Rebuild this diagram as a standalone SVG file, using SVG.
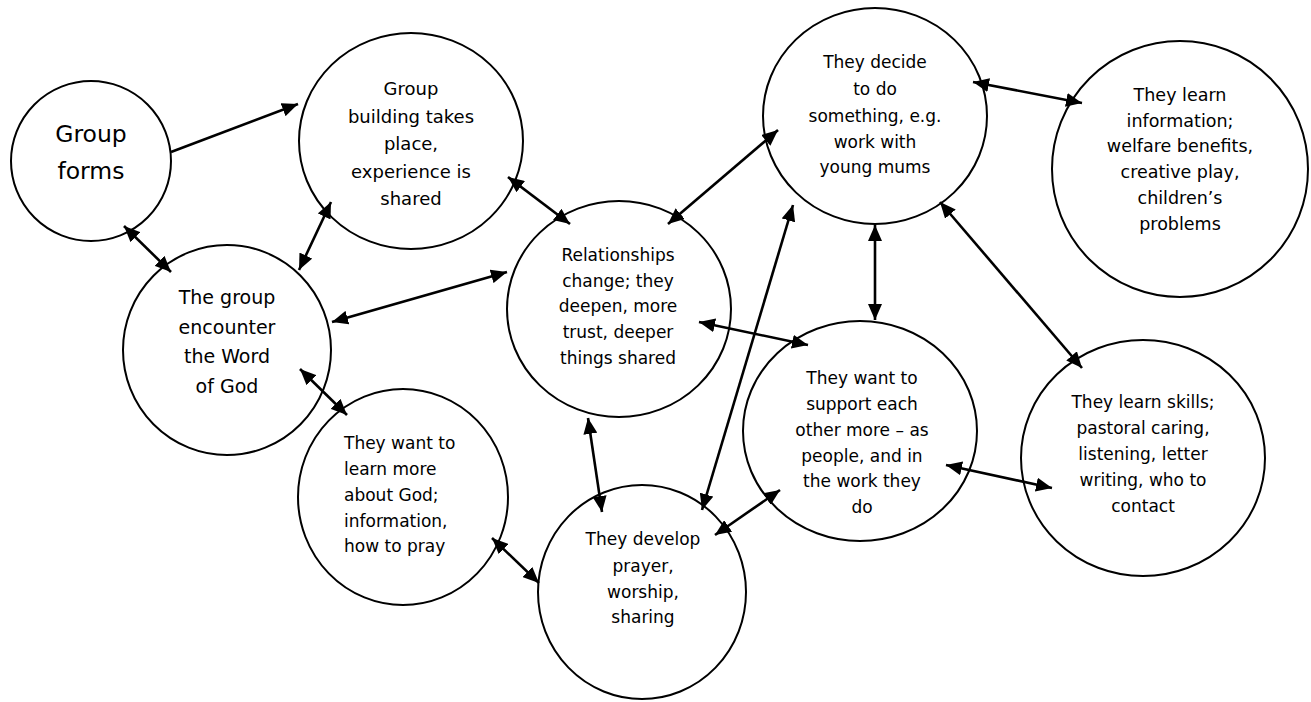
<svg xmlns="http://www.w3.org/2000/svg" width="1311" height="702" viewBox="0 0 1311 702">
<style>
.n{fill:#fff;stroke:#000;stroke-width:2}
.t{font-family:"DejaVu Sans","Liberation Sans",sans-serif;font-size:17px;fill:#000;text-anchor:middle}
.c line{stroke:#000;stroke-width:2.6;marker-end:url(#ah)}
.c line.d{marker-start:url(#ah)}
</style>
<defs>
<marker id="ah" markerUnits="userSpaceOnUse" markerWidth="17" markerHeight="14" refX="16" refY="7" orient="auto-start-reverse" viewBox="0 0 17 14">
<path d="M0,0 L16,7 L0,14 z" fill="#000"/>
</marker>
</defs>
<rect width="1311" height="702" fill="#fff"/>
<g id="n1"><ellipse class="n" cx="91" cy="161" rx="80" ry="80"/>
<text class="t" style="font-size:23.5px" x="91"><tspan x="91" y="142">Group</tspan><tspan x="91" y="179">forms</tspan></text></g>
<g id="n2"><ellipse class="n" cx="411" cy="141" rx="112" ry="108"/>
<text class="t" style="font-size:18px"><tspan x="411" y="95">Group</tspan><tspan x="411" y="122.5">building takes</tspan><tspan x="411" y="150">place,</tspan><tspan x="411" y="177.5">experience is</tspan><tspan x="411" y="205">shared</tspan></text></g>
<g id="n3"><ellipse class="n" cx="227" cy="350" rx="104" ry="105"/>
<text class="t" style="font-size:19px"><tspan x="227" y="304">The group</tspan><tspan x="227" y="334">encounter</tspan><tspan x="227" y="363">the Word</tspan><tspan x="227" y="393">of God</tspan></text></g>
<g id="n4"><ellipse class="n" cx="619" cy="309" rx="112" ry="108"/>
<text class="t"><tspan x="618" y="261">Relationships</tspan><tspan x="618" y="287">change; they</tspan><tspan x="618" y="312">deepen, more</tspan><tspan x="618" y="338">trust, deeper</tspan><tspan x="618" y="364">things shared</tspan></text></g>
<g id="n5"><ellipse class="n" cx="875" cy="116" rx="112" ry="108"/>
<text class="t"><tspan x="875" y="68">They decide</tspan><tspan x="875" y="95">to do</tspan><tspan x="875" y="122">something, e.g.</tspan><tspan x="875" y="148">work with</tspan><tspan x="875" y="173">young mums</tspan></text></g>
<g id="n6"><ellipse class="n" cx="1180" cy="169" rx="128" ry="128"/>
<text class="t" style="font-size:17.5px"><tspan x="1180" y="101">They learn</tspan><tspan x="1180" y="127">information;</tspan><tspan x="1180" y="152">welfare benefits,</tspan><tspan x="1180" y="178">creative play,</tspan><tspan x="1180" y="204">children’s</tspan><tspan x="1180" y="230">problems</tspan></text></g>
<g id="n7"><ellipse class="n" cx="860" cy="431" rx="117" ry="110"/>
<text class="t"><tspan x="862" y="384">They want to</tspan><tspan x="862" y="410">support each</tspan><tspan x="862" y="436">other more – as</tspan><tspan x="862" y="462">people, and  in</tspan><tspan x="862" y="487">the work they</tspan><tspan x="862" y="513">do</tspan></text></g>
<g id="n8"><ellipse class="n" cx="1143" cy="458" rx="122" ry="118"/>
<text class="t"><tspan x="1143" y="408">They learn skills;</tspan><tspan x="1143" y="434">pastoral caring,</tspan><tspan x="1143" y="460">listening, letter</tspan><tspan x="1143" y="486">writing, who to</tspan><tspan x="1143" y="512">contact</tspan></text></g>
<g id="n9"><ellipse class="n" cx="403" cy="497" rx="105" ry="108"/>
<text class="t" style="text-anchor:start"><tspan x="344" y="449">They want to</tspan><tspan x="344" y="475">learn more</tspan><tspan x="344" y="501">about God;</tspan><tspan x="344" y="527">information,</tspan><tspan x="344" y="552">how to pray</tspan></text></g>
<g id="n10"><ellipse class="n" cx="642" cy="592" rx="104" ry="107"/>
<text class="t"><tspan x="643" y="545">They develop</tspan><tspan x="643" y="572">prayer,</tspan><tspan x="643" y="598">worship,</tspan><tspan x="643" y="623">sharing</tspan></text></g>
<g id="connectors" class="c">
<line x1="171" y1="152" x2="298" y2="104"/>
<line class="d" x1="124" y1="226" x2="171" y2="272"/>
<line class="d" x1="331" y1="202" x2="299" y2="270"/>
<line class="d" x1="332" y1="322" x2="507" y2="272"/>
<line class="d" x1="300" y1="369" x2="347" y2="415"/>
<line class="d" x1="508" y1="177" x2="570" y2="224"/>
<line class="d" x1="668" y1="224" x2="778" y2="130"/>
<line class="d" x1="699" y1="322" x2="808" y2="345"/>
<line class="d" x1="588" y1="418" x2="602" y2="512"/>
<line class="d" x1="793" y1="205" x2="702" y2="510"/>
<line class="d" x1="973" y1="82" x2="1082" y2="103"/>
<line class="d" x1="875" y1="225" x2="875" y2="320"/>
<line class="d" x1="940" y1="202" x2="1082" y2="368"/>
<line class="d" x1="946" y1="465" x2="1052" y2="488"/>
<line class="d" x1="780" y1="490" x2="715" y2="535"/>
<line class="d" x1="492" y1="538" x2="539" y2="583"/>
</g>
</svg>
